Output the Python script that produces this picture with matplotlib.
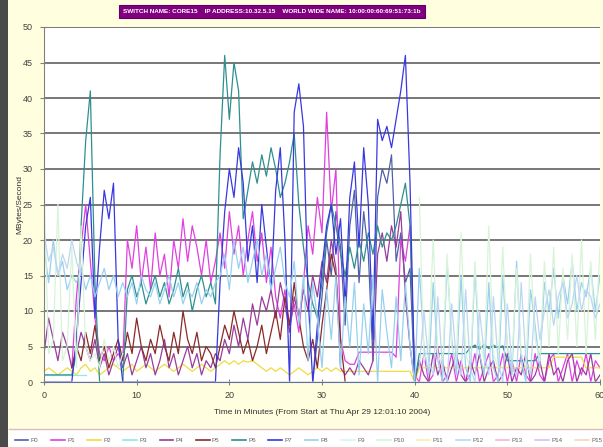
import matplotlib
matplotlib.use("Agg")
import matplotlib.pyplot as plt
from matplotlib.lines import Line2D
from matplotlib.patches import Rectangle
import numpy as np

plt.rcParams['font.family'] = ['Liberation Sans', 'DejaVu Sans']

# time axis: one sample every half minute
minutes = [i * 0.5 for i in range(121)]

# port throughput in MBytes/second (None = no line)
p0 = [None] * 58 + [0, 6, 12, 20, 15, 24, 19, 8, 22, 27, 14, 24, 18, 3, 26, 30, 28, 32,
                    17, 21, 14, 16, 0] + [None] * 40
p1 = ([None] * 6 + [2, 12, 19, 25, 17, 9, 4, 3, 5, 3, 4, 3,
                    20, 16, 22, 14, 19, 13, 21, 15, 18, 12, 20, 16, 23, 17, 22, 19, 15, 20, 14, 17,
                    21, 16, 24, 18, 22, 15, 20, 24, 17, 21, 14, 19, 12, 9, 13, 8, 11, 7, 14, 22,
                    18, 26, 21, 38, 24, 30, 6, 3, 2.5, 2.5, 4.2, 4.2, 4.2, 4.2, 4.2, 4.2, 4.2, 4.2,
                    3.5, 20, 17, 22, 1,
                    0, 4, 0, 1, 5, 0, 1, 4, 0, 3, 0, 1, 4, 0, 2, 4, 0, 1, 4, 0,
                    3, 0, 4, 1, 0, 4, 1, 0, 3, 4, 0, 2, 4, 0, 3, 1, 4, 0, 3, 2])
p2 = [1.5, 2, 1.5, 1, 1.5, 2, 1.5, 1, 2, 2.5, 1.5, 2, 1, 1.5, 2, 2.5, 2, 1.5,
      2, 2.5, 1.5, 2, 2.5, 2, 1.5, 2, 2.5, 2, 1.5, 2, 2.5, 2, 1.5, 2, 2.5, 2, 1.5, 2,
      2.5, 3, 2.5, 3, 2.5, 3, 2.8, 3, 2.5, 2, 1.5, 2, 1.5, 2, 1.5, 1, 1.5, 2, 1.5, 1,
      1.5, 2, 1.5, 2, 1.5, 2,
      1.5, 1.5, 1.5, 1.5, 1.5, 1.5, 1.5, 1.5, 1.5, 1.5, 1.5, 1.5, 1.5, 1.5, 1.5, 1.5, 0,
      2, 2, 2, 2, 2, 2, 2, 2, 2, 2, 2, 2, 2, 2, 2, 2, 2, 2, 2, 2,
      2, 2, 2, 2, 2, 2, 2, 2, 2, 3.5, 3.5, 3.5, 3.5, 3.5, 3.5, 3.5, 2, 2, 2, 2]
p3 = [1, 1, 1, 1, 1, 1, 1, 1, 1, 1] + [None] * 111
p4 = [4, 9, 6, 3, 7, 5, 2, 4, 7, 5, 3, 6, 2, 4, 1, 3, 5, 2,
      4, 1, 3, 5, 2, 4, 1, 3, 6, 2, 4, 1, 3, 5, 2, 4, 1, 3, 2, 4,
      3, 6, 4, 8, 5, 9, 6, 11, 8, 12, 10, 13, 9, 14, 11, 7, 12, 9, 13, 10, 15, 12,
      17, 14, 20, 16, 2, 1, 2, 1, 3, 2, 1, 3, 18, 21, 17, 22, 19, 24, 12, 5, 0,
      3, 1, 0, 4, 1, 3, 0, 2, 4, 1, 0, 3, 1, 4, 0, 2, 3, 0, 1, 4,
      0, 2, 1, 4, 0, 1, 3, 0, 4, 1, 2, 0, 3, 4, 0, 2, 1, 4, 0, 1]
p5 = ([None] * 6 + [2, 5, 3, 7, 4, 8, 3, 5, 2, 4, 6, 3,
                    7, 4, 9, 5, 3, 6, 4, 8, 5, 3, 7, 4, 10, 6, 4, 7, 3, 5, 4, 2,
                    5, 8, 6, 10, 7, 4, 6, 3, 5, 8, 4, 7, 10, 6, 12, 8, 14, 9, 5, 3,
                    6, 2, 8, 13, 18, 15, 6, 0] + [None] * 55)
p6 = [1, 1, 1, 1, 1, 1, 1, 4, 22, 34, 41, 14, 0, 0, 0, 0, 0, 0,
      13, 15, 12, 14, 11, 13, 15, 12, 14, 11, 13, 16, 12, 14, 10, 13, 15, 12, 14, 11,
      32, 46, 37, 45, 41, 23, 27, 31, 28, 32, 29, 33, 30, 26, 28, 31, 35, 25, 19, 14,
      11, 9, 14, 21, 25, 22, 18, 15, 19, 16, 20, 17, 21, 18, 22, 19, 21, 20, 22, 25,
      28, 22, 0,
      4, 4, 4, 4, 4, 4, 4, 4, 4, 4, 4, 4.8, 5.2, 4.6, 5.3, 4.7, 5.2, 4.8, 5.1,
      3, 3, 3, 3, 3, 3, 3, 4, 4, 4, 4, 4, 4, 4, 4, 4, 4, 4, 4, 4, 4]
p7 = ([0, 0, 0, 0, 0, 0, 0, 6, 14, 22, 26, 9, 19, 27, 23, 28, 6, 0]
      + [0] * 20
      + [14, 24, 30, 26, 33, 28, 17, 22, 14, 25, 19, 13, 27, 33, 20, 0, 38, 42, 36, 12,
         0, 8, 16, 22, 25, 18, 23, 11, 26, 31, 19, 33, 25, 6, 37, 34, 36, 33, 37, 41,
         46, 28, 0]
      + [None] * 40)
p8 = [19, 14, 20, 15, 17, 13, 15, 14, 16, 13, 15, 12, 14, 16, 13, 15, 12, 14,
      12, 14, 11, 15, 13, 12, 14, 11, 13, 15, 12, 14, 11, 13, 12, 14, 11, 13, 12, 14,
      15, 18, 13, 20, 16, 19, 14, 17, 20, 15, 18, 13, 16, 19, 14, 12, 17, 8, 15, 3,
      14, 9, 2, 13, 6, 15,
      2, 12, 5, 14, 1, 11, 4, 15, 0, 13, 7, 2, 12, 3, 14, 5, 0,
      16, 5, 1, 14, 3, 0, 17, 6, 1, 15, 2, 0, 16, 4, 1, 14, 2, 0, 15, 5,
      1, 17, 3, 0, 13, 8, 2, 14, 10, 16, 9, 15, 11, 17, 10, 14, 12, 16, 10, 15]
p10 = ([27, 4, 6, 25, 3, 5, 19, 2, 22, 5, 3, 4, 2, 6, 3, 5, 2, 4]
       + [None] * 63
       + [26, 3, 5, 20, 4, 2, 18, 5, 3, 21, 4, 2, 17, 6, 3, 22, 4, 2, 19, 5,
          3, 16, 4, 2, 18, 6, 3, 17, 5, 19, 4, 16, 6, 18, 5, 20, 4, 17, 6, 19])
p12 = ([21, 17, 19, 15, 18, 16, 20, 17, 15]
       + [None] * 72
       + [2, 10, 3, 1, 12, 2, 0, 11, 3, 1, 13, 2, 0, 10, 4, 1, 12, 3, 0, 11,
          2, 1, 14, 3, 1, 12, 6, 10, 13, 8, 12, 14, 9, 11, 15, 10, 13, 12, 9, 11])
p_idle = [0.0] * 121  # ports 9, 11, 13, 14, 15 show no traffic

series = [p0, p1, p2, p3, p4, p5, p6, p7, p8, p_idle, p10, p_idle, p12, p_idle, p_idle, p_idle]
names = ["P0", "P1", "P2", "P3", "P4", "P5", "P6", "P7",
         "P8", "P9", "P10", "P11", "P12", "P13", "P14", "P15"]
colors = ['#5060a8', '#e040e0', '#f0dc40', '#90e8e8', '#9a3c9a', '#8a2a2a', '#2e8f8f', '#3838e0',
          '#98d0f0', '#d8f4f4', '#d8f4d8', '#f8f0a8', '#bcd6f4', '#f4b8d0', '#d8c0f0', '#f4d8b8']

W, H = 603, 447
fig = plt.figure(figsize=(W / 100, H / 100), dpi=100)
fig.patch.set_facecolor('#ffffe0')

# dark frame on the left and white legend strip at the bottom
fig.patches.append(Rectangle((0, 0), 8 / W, 1, transform=fig.transFigure,
                             facecolor='#4a4a4a', edgecolor='none', zorder=0))
fig.patches.append(Rectangle((9 / W, 0), 1 - 9 / W, 18 / H, transform=fig.transFigure,
                             facecolor='white', edgecolor='none', zorder=0))
fig.lines.append(Line2D([9 / W, 1], [18 / H, 18 / H], transform=fig.transFigure,
                        color='#e0b8c0', lw=1))

ax = fig.add_axes([44 / W, 65 / H, 556 / W, 355 / H])
ax.set_facecolor('white')

t = np.array(minutes)
for vals, name, col in zip(series, names, colors):
    y = np.array([np.nan if v is None else v for v in vals], dtype=float)
    ax.plot(t, y, color=col, lw=0.9, label=name)

ax.set_xlim(0, 60)
ax.set_ylim(0, 50)
ax.set_xticks(range(0, 61, 10))
ax.set_yticks(range(0, 51, 5))
for v in range(5, 51, 5):
    ax.axhline(v, color='#606060', lw=1.2, zorder=0.5)

for s in ['top', 'right']:
    ax.spines[s].set_visible(False)
ax.spines['left'].set_color('#808080')
ax.spines['bottom'].set_color('#6070a0')
ax.tick_params(axis='y', direction='inout', length=6, width=0.8, color='#808080',
               labelsize=6.5, labelcolor='#404040', pad=5)
ax.tick_params(axis='x', direction='inout', length=5, width=0.8, color='#808080',
               labelsize=6.5, labelcolor='#404040', pad=4)

fig.text(322 / W, 1 - 413 / H, "Time in Minutes (From Start at Thu Apr 29 12:01:10 2004)",
         ha='center', va='center', fontsize=6, color='#303030')
fig.text(20 / W, 1 - 204 / H, "MBytes/Second", rotation=90,
         ha='center', va='center', fontsize=6, color='#303030')

fig.text(272 / W, 1 - 11.5 / H,
         "SWITCH NAME: CORE15    IP ADDRESS:10.32.5.15    WORLD WIDE NAME: 10:00:00:60:69:51:73:1b",
         ha='center', va='center', fontsize=4.6, color='white', fontweight='bold',
         bbox=dict(facecolor='#800080', edgecolor='#600060', pad=3.2, lw=0.8))

handles = [Line2D([], [], color=c, lw=1.2) for c in colors]
fig.legend(handles, names, loc='lower left', ncol=16, mode='expand',
           bbox_to_anchor=(12 / W, 1 / H, 1 - 10 / W, 16 / H), frameon=False,
           fontsize=4.5, handlelength=2.2, handletextpad=0.4, columnspacing=0.5,
           borderaxespad=0, labelcolor='#606060')

fig.savefig("out.png", dpi=100, facecolor=fig.get_facecolor())
